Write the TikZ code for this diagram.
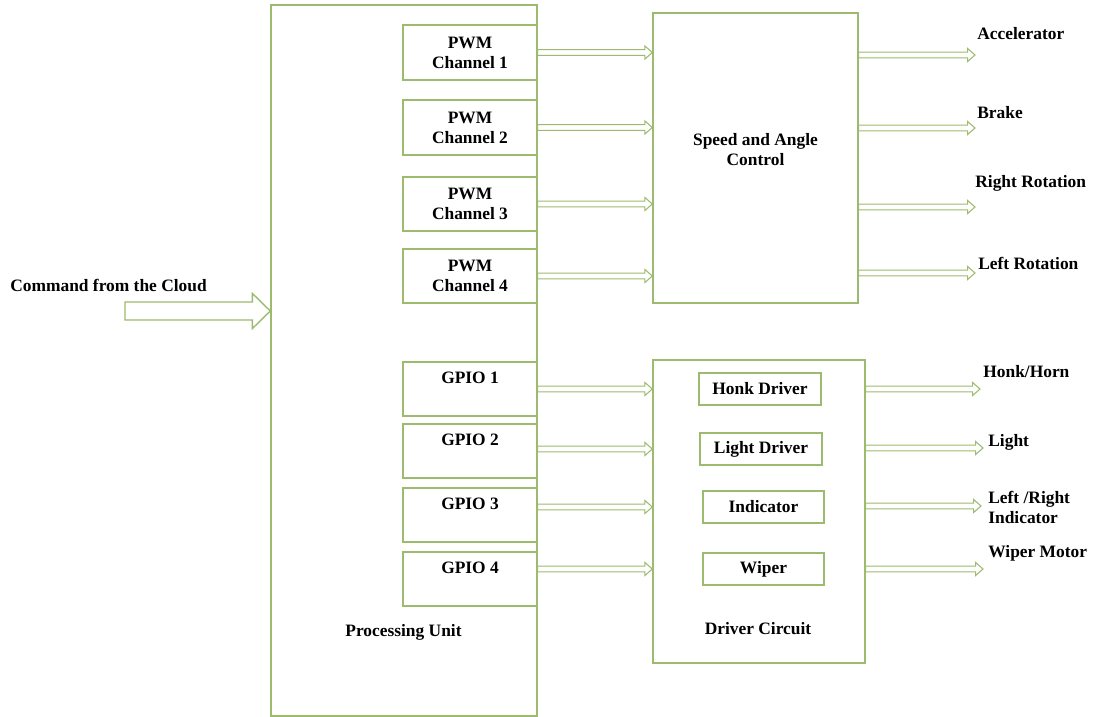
\documentclass[tikz,border=0pt]{standalone}
\usepackage{fontspec}
\setmainfont{Liberation Serif}
\usetikzlibrary{calc}
\definecolor{boxgreen}{HTML}{9CBB6E}
\newcommand{\lblfont}{\fontsize{9.9}{11.4}\selectfont\bfseries}
\tikzset{
  box/.style={draw=boxgreen, line width=0.8pt, inner sep=0pt, align=center, font=\lblfont},
  txt/.style={inner sep=0pt, align=left, font=\lblfont},
  % hollow block arrows, drawn horizontally at the height of the start point
  blockarrow/.style={draw=boxgreen, line width=0.6pt, fill=white,
    to path={let \p1=(\tikztostart), \p2=(\tikztotarget) in
      (\x1,\y1+1.6pt) -- (\x2-4.2pt,\y1+1.6pt) -- (\x2-4.2pt,\y1+3.7pt) -- (\x2,\y1)
      -- (\x2-4.2pt,\y1-3.7pt) -- (\x2-4.2pt,\y1-1.6pt) -- (\x1,\y1-1.6pt) -- cycle}},
  bigarrow/.style={draw=boxgreen, line width=0.8pt, fill=white,
    to path={let \p1=(\tikztostart), \p2=(\tikztotarget) in
      (\x1,\y1+5.1pt) -- (\x2-10.2pt,\y1+5.1pt) -- (\x2-10.2pt,\y1+10pt) -- (\x2,\y1)
      -- (\x2-10.2pt,\y1-10pt) -- (\x2-10.2pt,\y1-5.1pt) -- (\x1,\y1-5.1pt) -- cycle}},
}

\begin{document}
\begin{tikzpicture}[x=0.2mm, y=-0.2mm]
  \useasboundingbox (0,0) rectangle (1094,717);

  % processing unit
  \node[box, minimum width=53.2mm, minimum height=142.2mm] (pu) at (404,360.5) {};
  \node[txt] (putext) at (403.5,632) {Processing Unit};

  \node[box, minimum width=26.8mm, minimum height=11mm] (pwm1) at (470,52.5) {PWM\\Channel 1};
  \node[box, minimum width=26.8mm, minimum height=11mm] (pwm2) at (470,127.5) {PWM\\Channel 2};
  \node[box, minimum width=26.8mm, minimum height=10.8mm] (pwm3) at (470,204) {PWM\\Channel 3};
  \node[box, minimum width=26.8mm, minimum height=10.8mm] (pwm4) at (470,276) {PWM\\Channel 4};

  \node[box, minimum width=26.8mm, minimum height=10.8mm,
        label={[txt, anchor=north, yshift=-2mm]north:GPIO 1}] (gpio1) at (470,389) {};
  \node[box, minimum width=26.8mm, minimum height=10.8mm,
        label={[txt, anchor=north, yshift=-2mm]north:GPIO 2}] (gpio2) at (470,451) {};
  \node[box, minimum width=26.8mm, minimum height=10.8mm,
        label={[txt, anchor=north, yshift=-2mm]north:GPIO 3}] (gpio3) at (470,515) {};
  \node[box, minimum width=26.8mm, minimum height=10.8mm,
        label={[txt, anchor=north, yshift=-2mm]north:GPIO 4}] (gpio4) at (470,579) {};

  % speed and angle control
  \node[box, minimum width=41mm, minimum height=58mm,
        label={[txt, align=center, yshift=1.6mm]center:Speed and Angle\\Control}] (speed) at (755.5,158) {};

  % driver circuit
  \node[box, minimum width=42.4mm, minimum height=60.6mm] (drv) at (759,511.5) {};
  \node[txt] (drvtext) at (758,629) {Driver Circuit};
  \node[box, minimum width=24.4mm, minimum height=6.4mm] (honk) at (760,389) {Honk Driver};
  \node[box, minimum width=24.4mm, minimum height=6.4mm] (ldrv) at (761,449) {Light Driver};
  \node[box, minimum width=24.2mm, minimum height=6.4mm] (ind) at (763.5,507) {Indicator};
  \node[box, minimum width=24.2mm, minimum height=6.4mm] (wip) at (763.5,569) {Wiper};

  % input
  \node[txt, anchor=west] (cmd) at (10,285) {Command from the Cloud};
  \coordinate (cmdtail) at (125,311);
  \draw[bigarrow] (cmdtail) to (pu.west |- cmdtail);

  % outputs
  \node[txt, anchor=west] (acc) at (977,34) {Accelerator};
  \node[txt, anchor=west] (brake) at (977,113) {Brake};
  \node[txt, anchor=west] (rrot) at (975,183) {Right Rotation};
  \node[txt, anchor=west] (lrot) at (978,263) {Left Rotation};
  \node[txt, anchor=west] (horn) at (983,372) {Honk/Horn};
  \node[txt, anchor=west] (light) at (988,442) {Light};
  \node[txt, anchor=west] (lrind) at (988,507) {Left /Right\\Indicator};
  \node[txt, anchor=west] (wipm) at (988,553) {Wiper Motor};

  \coordinate (acctip) at (975,55);
  \coordinate (braketip) at (975,128);
  \coordinate (rrottip) at (975,207);
  \coordinate (lrottip) at (975,273);
  \coordinate (horntip) at (980,389);
  \coordinate (lighttip) at (983,448);
  \coordinate (indtip) at (981,506);
  \coordinate (wiptip) at (983,569);

  % pwm -> speed control
  \draw[blockarrow] (pwm1.east) to (speed.west |- pwm1.east);
  \draw[blockarrow] (pwm2.east) to (speed.west |- pwm2.east);
  \draw[blockarrow] (pwm3.east) to (speed.west |- pwm3.east);
  \draw[blockarrow] (pwm4.east) to (speed.west |- pwm4.east);

  \draw[blockarrow] (speed.east |- acctip) to (acctip);
  \draw[blockarrow] (speed.east |- braketip) to (braketip);
  \draw[blockarrow] (speed.east |- rrottip) to (rrottip);
  \draw[blockarrow] (speed.east |- lrottip) to (lrottip);

  % gpio -> drivers
  \draw[blockarrow] (gpio1.east |- honk) to (drv.west |- honk);
  \draw[blockarrow] (gpio2.east |- ldrv) to (drv.west |- ldrv);
  \draw[blockarrow] (gpio3.east |- ind) to (drv.west |- ind);
  \draw[blockarrow] (gpio4.east |- wip) to (drv.west |- wip);

  \draw[blockarrow] (drv.east |- horntip) to (horntip);
  \draw[blockarrow] (drv.east |- lighttip) to (lighttip);
  \draw[blockarrow] (drv.east |- indtip) to (indtip);
  \draw[blockarrow] (drv.east |- wiptip) to (wiptip);
\end{tikzpicture}
\end{document}
